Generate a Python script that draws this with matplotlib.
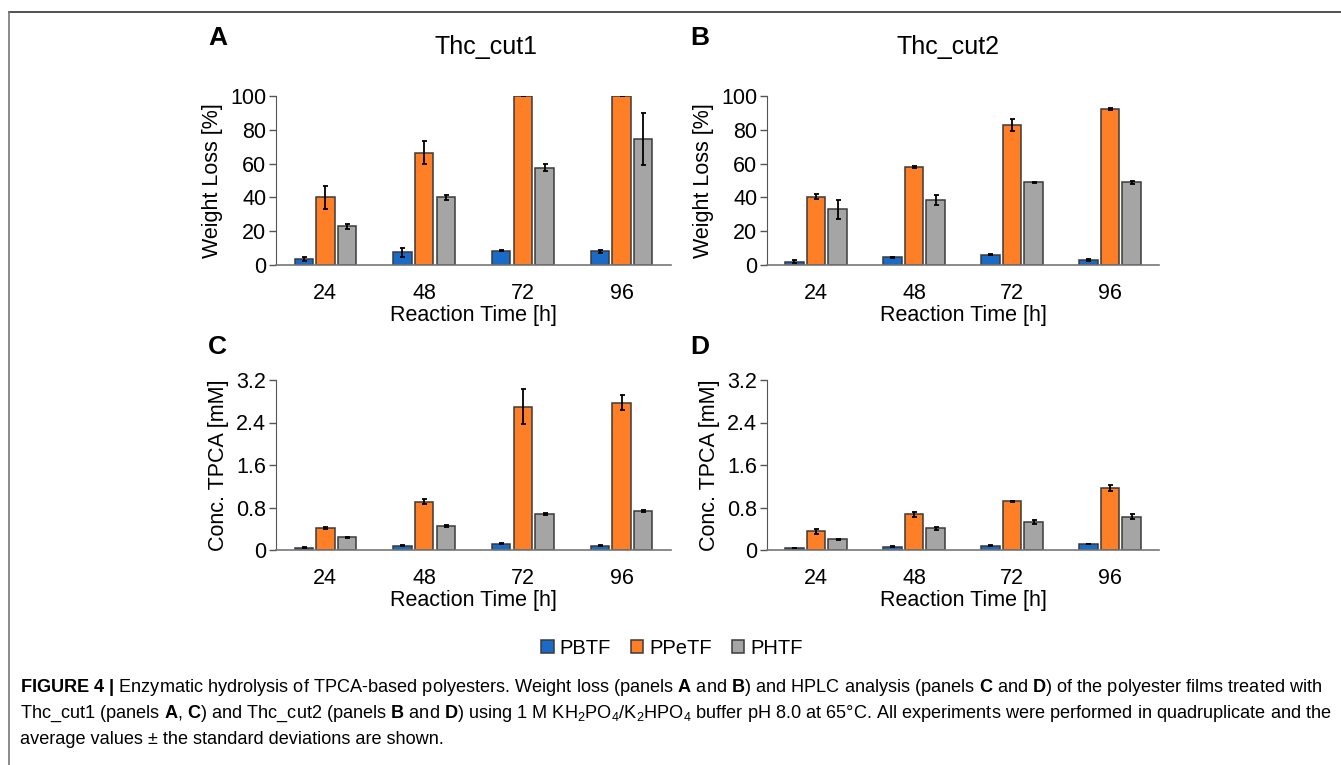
import matplotlib.pyplot as plt
import numpy as np

plt.rcParams['font.family'] = ['Liberation Sans', 'DejaVu Sans']
plt.rcParams['mathtext.fontset'] = 'custom'
plt.rcParams['mathtext.rm'] = 'Liberation Sans'
plt.rcParams['mathtext.bf'] = 'Liberation Sans:bold'
plt.rcParams['mathtext.it'] = 'Liberation Sans:italic'

# data
times = ["24", "48", "72", "96"]
polymers = ["PBTF", "PPeTF", "PHTF"]
colors = ["#1a6bc7", "#ff7f27", "#a5a5a5"]

# weight loss [%]
wl_cut1 = [[3.5, 7.5, 8.5, 8.0],
           [40.0, 66.5, 100.0, 100.0],
           [23.0, 40.0, 57.5, 74.5]]
wl_cut1_err = [[1.2, 2.5, 0.2, 0.7],
               [7.0, 7.0, 0.0, 0.0],
               [1.5, 1.5, 2.0, 15.5]]
wl_cut2 = [[2.0, 4.5, 6.0, 3.0],
           [40.5, 58.0, 83.0, 92.3],
           [33.0, 38.5, 49.0, 49.0]]
wl_cut2_err = [[1.0, 0.5, 0.3, 0.7],
               [1.5, 0.8, 3.5, 0.4],
               [5.5, 3.0, 0.3, 1.0]]

# TPCA concentration [mM]
tp_cut1 = [[0.04, 0.08, 0.12, 0.08],
           [0.41, 0.91, 2.70, 2.77],
           [0.24, 0.46, 0.67, 0.74]]
tp_cut1_err = [[0.01, 0.01, 0.01, 0.01],
               [0.02, 0.05, 0.33, 0.14],
               [0.01, 0.02, 0.02, 0.02]]
tp_cut2 = [[0.04, 0.06, 0.08, 0.11],
           [0.35, 0.67, 0.92, 1.17],
           [0.20, 0.41, 0.53, 0.63]]
tp_cut2_err = [[0.005, 0.01, 0.01, 0.005],
               [0.04, 0.04, 0.01, 0.06],
               [0.01, 0.03, 0.04, 0.04]]

W, H = 1341, 765
fig = plt.figure(figsize=(W / 100, H / 100), dpi=100)


def px_axes(x0, y_top, x1, y_bot):
    return fig.add_axes([x0 / W, 1 - y_bot / H, (x1 - x0) / W, (y_bot - y_top) / H])


def panel(ax, vals, errs, ymax, ticks, ticklabels, ylabel):
    x = np.arange(len(times))
    for i in range(len(polymers)):
        ax.bar(x + (i - 1) * 0.22, vals[i], 0.185, color=colors[i],
               edgecolor="#3a3a3a", linewidth=1.1, label=polymers[i], zorder=2)
        ax.errorbar(x + (i - 1) * 0.22, vals[i], yerr=errs[i], fmt="none",
                    ecolor="black", elinewidth=1.3, capsize=1.8, capthick=1.3, zorder=3)
    ax.set_xlim(-0.5, 3.5)
    ax.set_ylim(0, ymax)
    ax.set_yticks(ticks)
    ax.set_yticklabels(ticklabels)
    ax.set_xticks(x)
    ax.set_xticklabels(times)
    ax.tick_params(axis="x", length=0, labelsize=15.5, pad=13)
    ax.tick_params(axis="y", length=5, width=1, color="#555555", labelsize=15.5, pad=2)
    for s in ["top", "right"]:
        ax.spines[s].set_visible(False)
    ax.spines["left"].set_color("#555555")
    ax.spines["bottom"].set_color("#777777")
    ax.spines["bottom"].set_linewidth(1.2)
    ax.set_xlabel("Reaction Time [h]", fontsize=15.5, labelpad=1)
    ax.set_ylabel(ylabel, fontsize=15.5, labelpad=5)


wl_ticks = [0, 20, 40, 60, 80, 100]
wl_labels = ["0", "20", "40", "60", "80", "100"]
tp_ticks = [0, 0.8, 1.6, 2.4, 3.2]
tp_labels = ["0", "0.8", "1.6", "2.4", "3.2"]

axA = px_axes(276, 96, 671, 265)
panel(axA, wl_cut1, wl_cut1_err, 100, wl_ticks, wl_labels, "Weight Loss [%]")
axB = px_axes(767, 96, 1159, 265)
panel(axB, wl_cut2, wl_cut2_err, 100, wl_ticks, wl_labels, "Weight Loss [%]")
axC = px_axes(276, 380, 671, 550)
panel(axC, tp_cut1, tp_cut1_err, 3.2, tp_ticks, tp_labels, "Conc. TPCA [mM]")
axD = px_axes(767, 380, 1159, 550)
panel(axD, tp_cut2, tp_cut2_err, 3.2, tp_ticks, tp_labels, "Conc. TPCA [mM]")

fig.text(486 / W, 1 - 47 / H, "Thc_cut1", fontsize=18, ha="center", va="center")
fig.text(948 / W, 1 - 47 / H, "Thc_cut2", fontsize=18, ha="center", va="center")
for lab, (px, py) in zip("ABCD", [(208, 38), (690, 38), (208, 347), (690, 347)]):
    fig.text(px / W, 1 - py / H, lab, fontsize=19, fontweight="bold", va="center")

handles, labels = axA.get_legend_handles_labels()
fig.legend(handles, labels, loc="center", bbox_to_anchor=(672 / W, 1 - 648 / H),
           ncol=3, frameon=False, fontsize=14.5, handlelength=0.6, handleheight=0.6,
           handletextpad=0.3, columnspacing=1.0)

# frame lines
fig.add_artist(plt.Line2D([9 / W, 1], [1 - 12 / H, 1 - 12 / H], color="#333333", lw=1.2))
fig.add_artist(plt.Line2D([9 / W, 9 / W], [0, 1 - 12 / H], color="#777777", lw=1.2))

cap = [
    r"$\mathbf{FIGURE\ 4\ |}$ Enzymatic hydrolysis of TPCA-based polyesters. Weight loss (panels $\mathbf{A}$ and $\mathbf{B}$) and HPLC analysis (panels $\mathbf{C}$ and $\mathbf{D}$) of the polyester films treated with",
    r"Thc_cut1 (panels $\mathbf{A}$, $\mathbf{C}$) and Thc_cut2 (panels $\mathbf{B}$ and $\mathbf{D}$) using 1 M KH$_2$PO$_4$/K$_2$HPO$_4$ buffer pH 8.0 at 65°C. All experiments were performed in quadruplicate and the",
    r"average values ± the standard deviations are shown.",
]
for i, line in enumerate(cap):
    fig.text(20 / W, 1 - (688 + 25.5 * i) / H, line, fontsize=13.05, va="center", ha="left")

fig.savefig("out.png", dpi=100)
